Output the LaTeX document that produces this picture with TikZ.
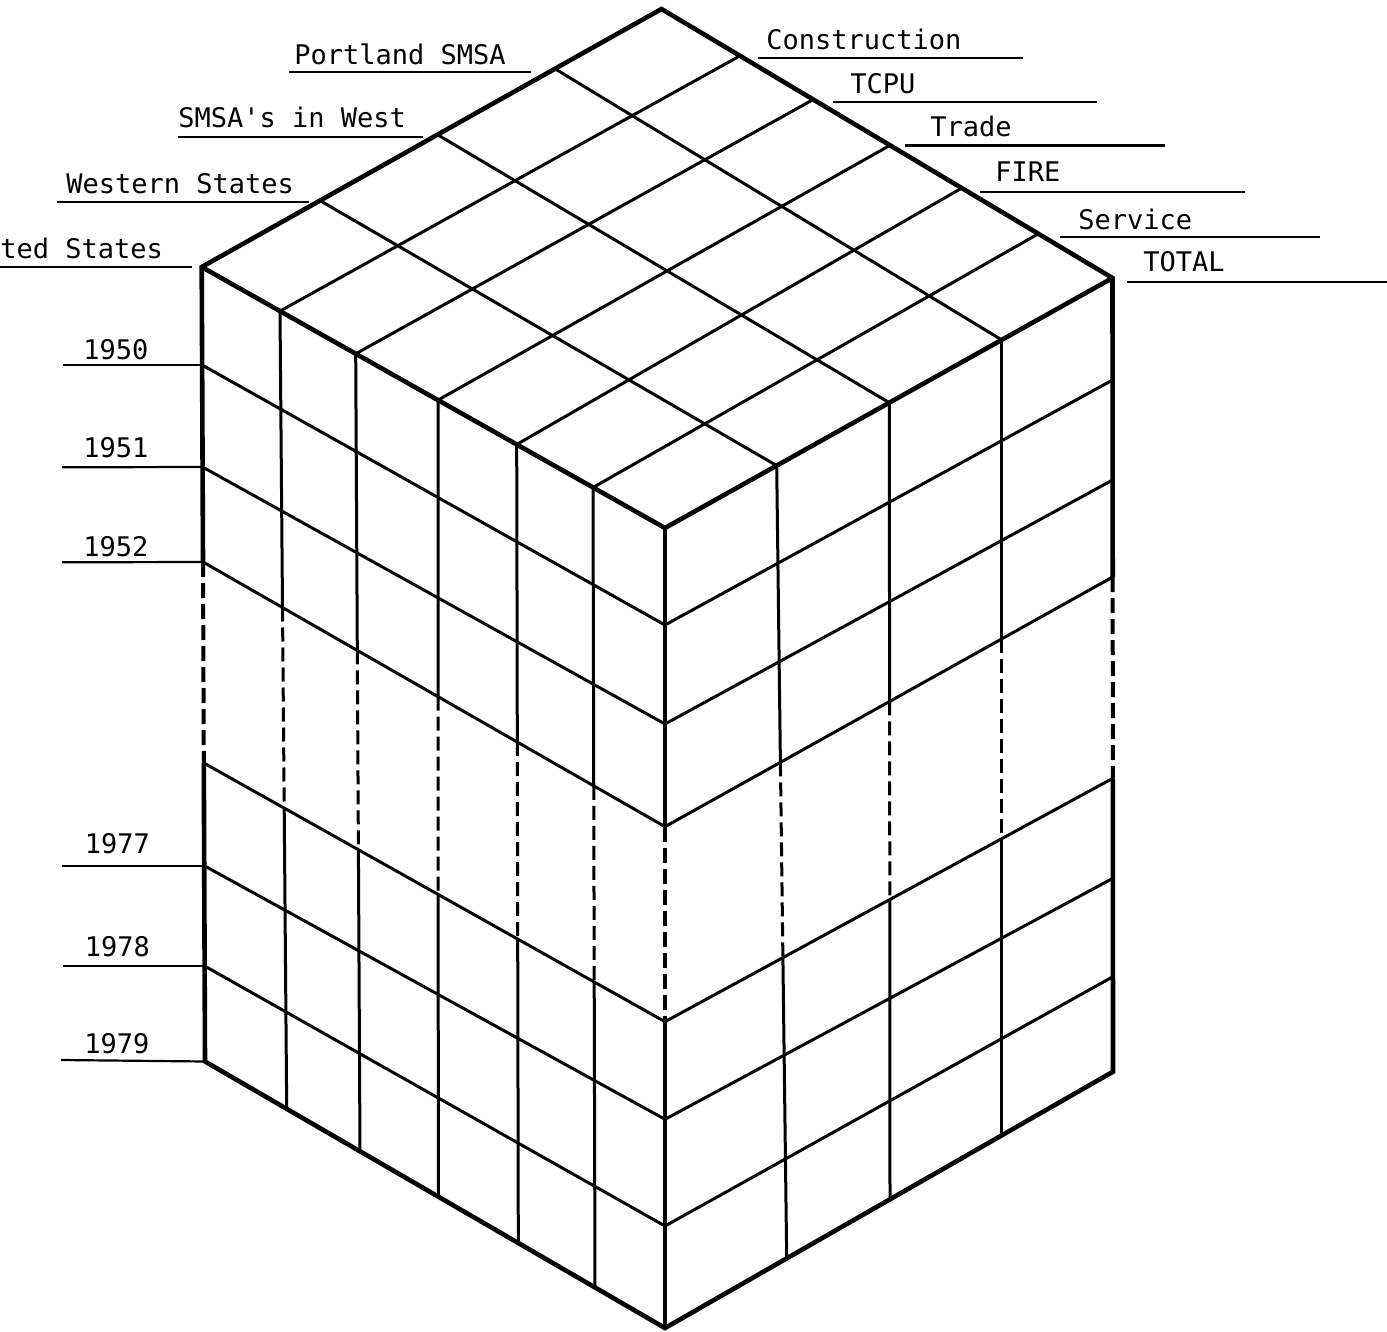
\documentclass[tikz,border=0pt]{standalone}
\usepackage{fontspec}
\setmonofont{DejaVu Sans Mono}
\begin{document}
\begin{tikzpicture}[x=0.5pt,y=-0.5pt,
  thickln/.style={line width=2.3pt,line join=miter},
  thinln/.style={line width=1.5pt},
  dashln/.style={line width=1.5pt,dash pattern=on 7pt off 3pt},
  dashthick/.style={line width=2pt,dash pattern=on 7.5pt off 3pt},
  uline/.style={line width=1.1pt},
  lbl/.style={anchor=base west,inner sep=0pt,font=\ttfamily\fontsize{13.5pt}{16pt}\selectfont}]
\path[use as bounding box] (0,0) rectangle (1387,1332);

% cube corners
\coordinate (T) at (661.5,9);
\coordinate (L) at (201.7,267);
\coordinate (F) at (665,528);
\coordinate (R) at (1112.5,278);
\coordinate (Lb) at (205,1061.5);
\coordinate (Fb) at (665,1328);
\coordinate (Rb) at (1113,1071.7);

% row points on the three vertical edges
\foreach \n/\y/\x in {1/365/202.1,2/467/202.5,3/562/203,4/763/203.8,5/865.7/204.2,6/966/204.6}
  \coordinate (E\n) at (\x,\y);
\foreach \n/\y in {1/625,2/724,3/826.7,4/1021.7,5/1119.3,6/1226}
  \coordinate (G\n) at (665,\y);
\foreach \n/\y/\x in {1/380/1112.6,2/480/1112.6,3/577/1112.7,4/778.3/1112.8,5/878.3/1112.9,6/976.7/1112.9}
  \coordinate (H\n) at (\x,\y);

% left face columns: top A, start of gap X, end of gap Y, bottom B
\foreach \n/\ax/\ay/\xx/\xy/\yx/\yy/\bx/\by in {
  1/280/311.1/282.5/607.5/284.2/808.1/286.7/1108.8,
  2/355.7/353.8/357.3/650.4/358.4/849.7/360/1151.3,
  3/438/400.1/438.1/696.7/438.2/894.5/438.3/1196.6,
  4/516.7/444.5/517.3/742.1/517.7/939/518.3/1243,
  5/593/487.5/593.75/785.8/594.2/982/595/1287.4}{
  \coordinate (A\n) at (\ax,\ay);
  \coordinate (X\n) at (\xx,\xy);
  \coordinate (Y\n) at (\yx,\yy);
  \coordinate (B\n) at (\bx,\by);
}
% right face columns: top C, start of gap V, end of gap W, bottom D
\foreach \n/\cx/\cy/\vx/\vy/\wx/\wy/\dx/\dy in {
  1/776.7/465.6/780.4/762.3/782.9/957.6/786.7/1258.4,
  2/889.3/402.7/889.6/701.4/889.8/899.5/890/1199.3,
  3/1001.7/339.9/1001.7/638.9/1001.7/838.7/1001.7/1135.4}{
  \coordinate (C\n) at (\cx,\cy);
  \coordinate (V\n) at (\vx,\vy);
  \coordinate (W\n) at (\wx,\wy);
  \coordinate (D\n) at (\dx,\dy);
}
% points on the back edges of the top face
\foreach \n/\x/\y in {1/320/200.6,2/437.5/134.7,3/555/68.8}
  \coordinate (S\n) at (\x,\y);
\foreach \n/\x/\y in {1/740/55.8,2/813.3/99.5,3/890/145.3,4/961.7/188.1,5/1038.3/233.8}
  \coordinate (Q\n) at (\x,\y);

% top face grid
\foreach \i in {1,...,5} \draw[thinln] (A\i) -- (Q\i);
\foreach \i in {1,2,3} \draw[thinln] (S\i) -- (C\i);

% horizontal rows on both side faces
\foreach \i in {1,...,6} \draw[thinln] (E\i) -- (G\i) -- (H\i);

% left face verticals
\foreach \i in {1,...,5}{
  \draw[thinln] (A\i) -- (X\i);
  \draw[dashln] (X\i) -- (Y\i);
  \draw[thinln] (Y\i) -- (B\i);
}
% right face verticals
\foreach \i in {1,2,3}{
  \draw[thinln] (C\i) -- (V\i);
  \draw[dashln] (V\i) -- (W\i);
  \draw[thinln] (W\i) -- (D\i);
}

% outline
\draw[thickln] (E3) -- (L) -- (T) -- (R) -- (H3);
\draw[thickln] (L) -- (F) -- (R);
\draw[thickln] (F) -- (G3);
\draw[thickln] (H4) -- (Rb) -- (Fb) -- (Lb) -- (E4);
\draw[thickln] (G4) -- (Fb);
\draw[dashthick] (E3) -- (E4);
\draw[dashthick] (G3) -- (G4);
\draw[dashthick] (H3) -- (H4);

% labels, left back edge
\node[lbl] (us) at (0,258.3) {ted States};
\node[lbl] (ws) at (66,193.3) {Western States};
\node[lbl] (sw) at (178,127.3) {SMSA's in West};
\node[lbl] (pd) at (294,65) {Portland SMSA};
\draw[uline] (0,267.3) -- (192,267.3);
\draw[uline] (57,202.3) -- (309,202.3);
\draw[uline] (177.5,137.3) -- (423,137.3);
\draw[uline] (288.6,71.7) -- (531,71.7);

% labels, right back edge
\node[lbl] (con) at (766,50) {Construction};
\node[lbl] (tcpu) at (850,93.3) {TCPU};
\node[lbl] (trd) at (930,136.7) {Trade};
\node[lbl] (fire) at (995,181.7) {FIRE};
\node[lbl] (svc) at (1078,229.3) {Service};
\node[lbl] (tot) at (1143,271.7) {TOTAL};
\draw[uline] (758.3,58.3) -- (1023.3,58.3);
\draw[uline] (833.3,101.7) -- (1097,101.7);
\draw[uline] (905,145.5) -- (1165,145.5);
\draw[uline] (980,191.7) -- (1245,191.7);
\draw[uline] (1060,237.3) -- (1320,237.3);
\draw[uline] (1126.7,281.7) -- (1387,281.7);

% year labels
\node[lbl] (y50) at (83,359.3) {1950};
\node[lbl] (y51) at (83,457.7) {1951};
\node[lbl] (y52) at (83,556) {1952};
\node[lbl] (y77) at (84.5,853.3) {1977};
\node[lbl] (y78) at (84.5,956.7) {1978};
\node[lbl] (y79) at (84,1053) {1979};
\draw[uline] (62.7,365) -- (E1);
\draw[uline] (62,467.3) -- (E2);
\draw[uline] (62,562.3) -- (E3);
\draw[uline] (62,865.7) -- (E5);
\draw[uline] (63,966) -- (E6);
\draw[uline] (61,1060) -- (Lb);
\end{tikzpicture}
\end{document}
